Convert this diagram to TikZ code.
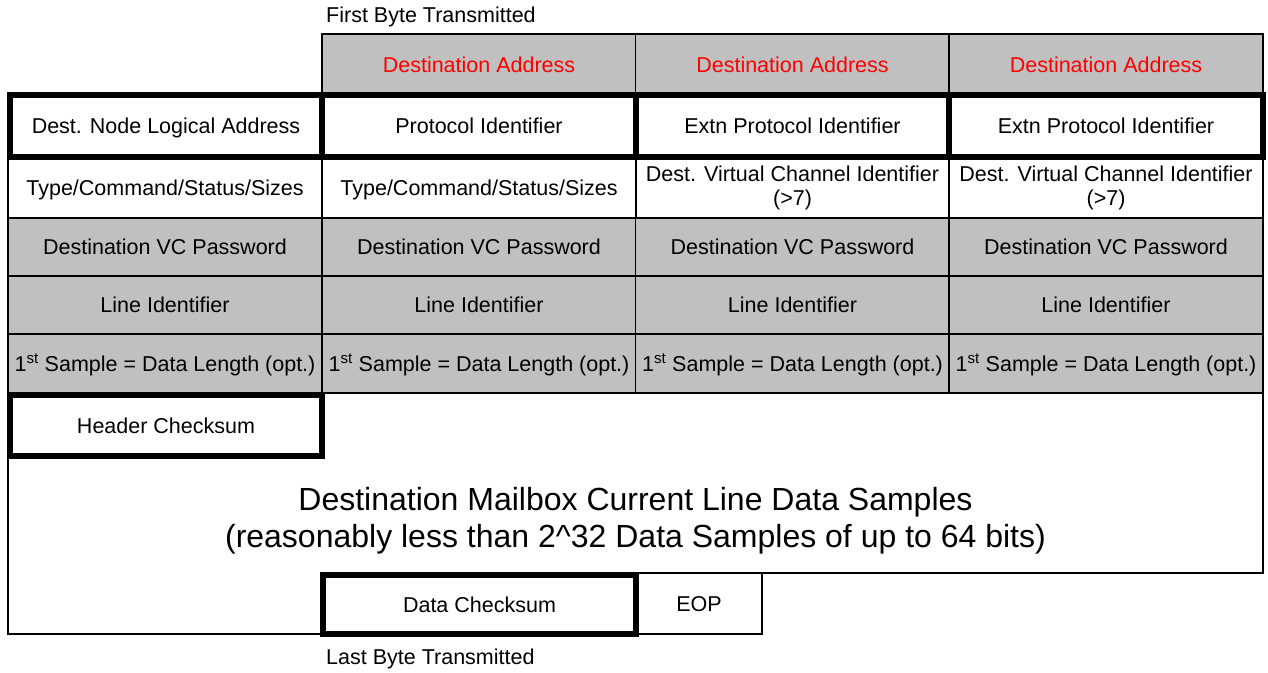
\documentclass[tikz,border=0pt]{standalone}
\usepackage{fontspec}
\setmainfont{Liberation Sans}
\definecolor{cellgrey}{HTML}{C0C0C0}

\begin{document}
\begin{tikzpicture}[x=1pt,y=-1pt,
    cell/.style={draw, line width=1.6pt, minimum width=314pt, minimum height=60pt,
        inner sep=0pt, align=center, text height=15.5pt, text depth=0pt,
        font=\fontsize{21.5}{24}\selectfont},
    twoline/.style={text height={}, text depth={}},
    greycell/.style={cell, fill=cellgrey},
    thickcell/.style={cell, line width=6pt},
    lbl/.style={inner sep=0pt, anchor=west, font=\fontsize{21.5}{24}\selectfont}]
\useasboundingbox (0,0) rectangle (1268,672);

\node[lbl] (first) at (326,17) {First Byte Transmitted};
\foreach \c/\x in {2/479,3/792.5,4/1106}
    \node[greycell, text=red, minimum height=61pt] (r1-\c) at (\x,64.5) {Destination Address};

\node[cell] (r3-1) at (165,187.5) {Type/Command/Status/Sizes};
\node[cell] (r3-2) at (479,187.5) {Type/Command/Status/Sizes};
\node[cell, twoline] (r3-3) at (792.5,187.5) {Dest. Virtual Channel Identifier\\(>7)};
\node[cell, twoline] (r3-4) at (1106,187.5) {Dest. Virtual Channel Identifier\\(>7)};
\foreach \r/\y/\h/\txt in {4/247/58/{Destination VC Password},5/305/58/{Line Identifier},
        6/363.5/59/{1\textsuperscript{st} Sample = Data Length (opt.)}}
    \foreach \c/\x in {1/165,2/479,3/792.5,4/1106}
        \node[greycell, minimum height=\h pt] (r\r-\c) at (\x,\y) {\txt};

\node[thickcell, minimum width=312pt, minimum height=62pt] (r2-1) at (166,126) {Dest. Node Logical Address};
\node[thickcell, minimum height=62pt] (r2-2) at (479,126) {Protocol Identifier};
\node[thickcell, minimum width=313pt, minimum height=62pt] (r2-3) at (792.5,126) {Extn Protocol Identifier};
\node[thickcell, minimum height=62pt] (r2-4) at (1106,126) {Extn Protocol Identifier};

\draw[line width=1.6pt] (8,393) -| (1263,573) -| (762,634) -- (8,634) -- cycle;
\node[font=\fontsize{32}{37}\selectfont, align=center] (mbox) at (635.5,521)
    {Destination Mailbox Current Line Data Samples\\(reasonably less than 2\textasciicircum 32 Data Samples of up to 64 bits)};

\node[thickcell, minimum width=312pt, minimum height=61pt] (hdr) at (166,425.5) {Header Checksum};
\node[cell, minimum width=126pt, minimum height=61pt] (eop) at (699,603.5) {EOP};
\node[thickcell, minimum width=313pt, minimum height=59pt] (dck) at (479.5,604.5) {Data Checksum};
\node[lbl] (last) at (326,659) {Last Byte Transmitted};
\end{tikzpicture}
\end{document}
